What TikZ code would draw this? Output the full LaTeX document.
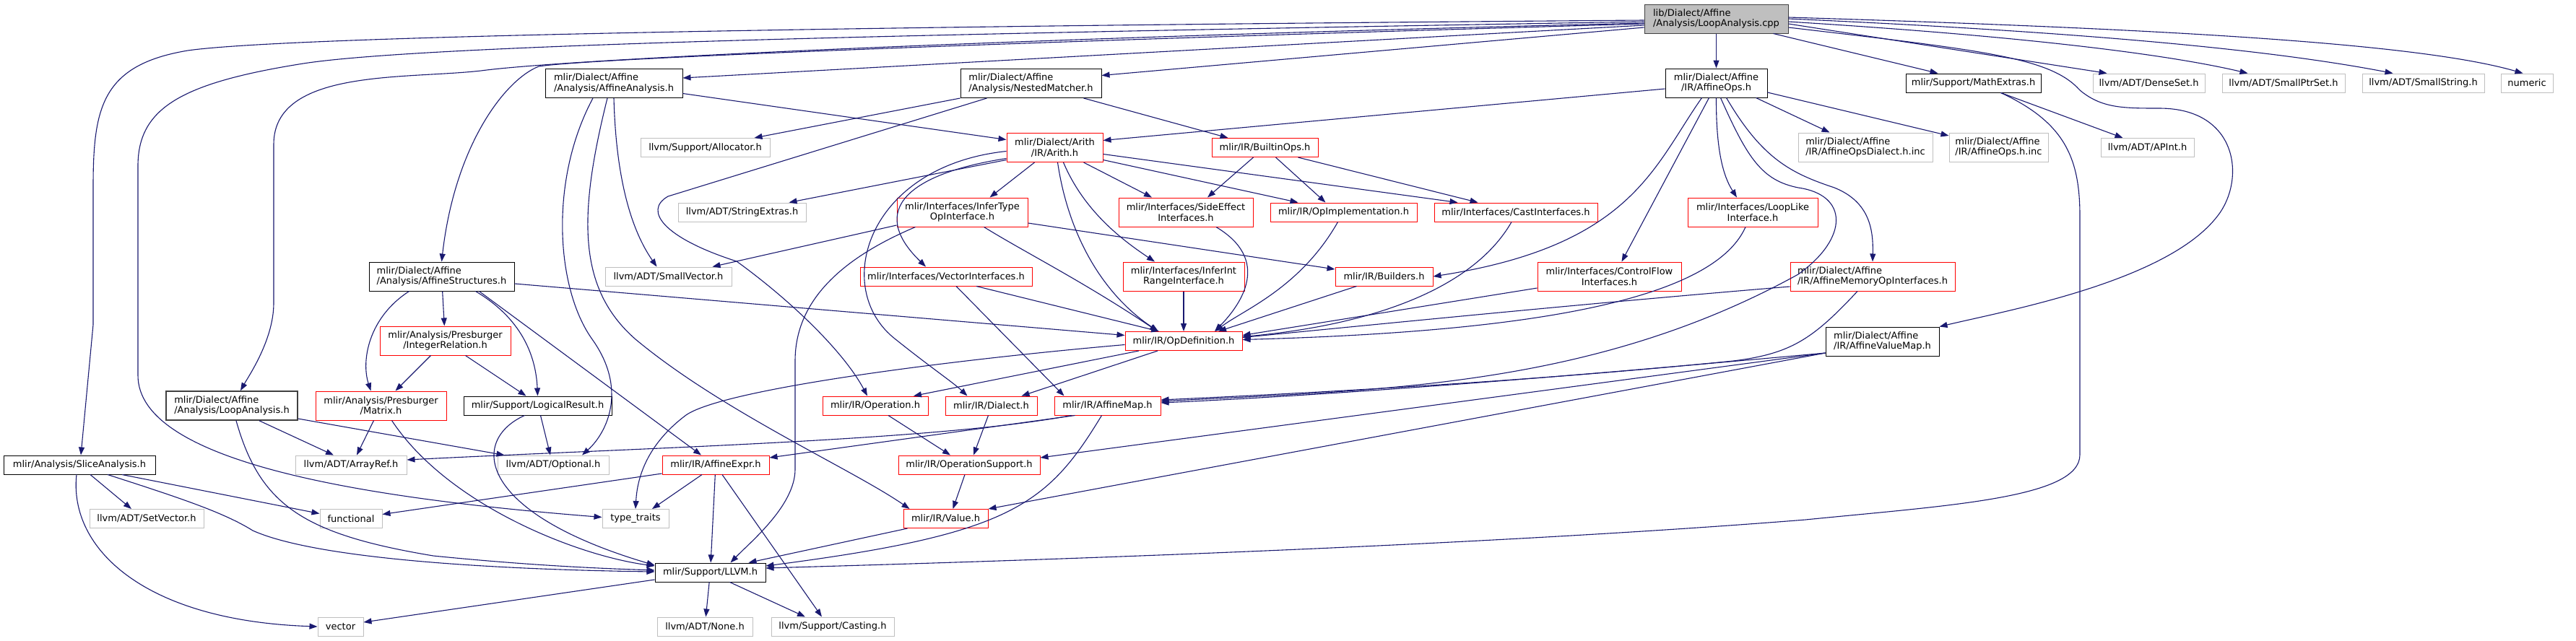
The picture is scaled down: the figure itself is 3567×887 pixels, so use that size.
\documentclass[tikz,border=0pt]{standalone}
\usepackage{fontspec}
\newfontfamily\dxfont{DejaVu Sans}
\usetikzlibrary{arrows.meta}
\definecolor{edgec}{HTML}{191970}
\definecolor{boxg}{HTML}{BFBFBF}
\definecolor{rootg}{HTML}{404040}
\begin{document}
\begin{tikzpicture}[x=1pt,y=-1pt,
 b/.style={draw,inner sep=0pt,minimum height=26pt,align=center,font=\dxfont\fontsize{13}{14.5}\selectfont,line width=1pt},
 bk/.style={b,draw=black},
 rd/.style={b,draw=red},
 gr/.style={b,draw=boxg},
 two/.style={minimum height=40pt},
 lft/.style={align=left},
 ar/.style={->,draw=edgec,line width=1.1pt},
 >={Triangle[length=11pt,width=8pt]}]
\fill[white] (0,0) rectangle (3567,887);
\useasboundingbox (0,0) rectangle (3567,887);
\node[b,two,lft,draw=rootg,fill=boxg,minimum width=199pt] (root) at (2376.5,26) {lib/Dialect/Affine\\/Analysis/LoopAnalysis.cpp};
\node[bk,two,lft,minimum width=190pt] (affana) at (850,115.5) {mlir/Dialect/Affine\\/Analysis/AffineAnalysis.h};
\node[bk,two,lft,minimum width=195pt] (nested) at (1427.5,115.5) {mlir/Dialect/Affine\\/Analysis/NestedMatcher.h};
\node[bk,two,minimum width=141pt] (affops) at (2376.5,115) {mlir/Dialect/Affine\\/IR/AffineOps.h};
\node[bk,minimum width=187pt] (mathx) at (2732.5,115) {mlir/Support/MathExtras.h};
\node[gr,minimum width=155pt] (denseset) at (2975.5,115) {llvm/ADT/DenseSet.h};
\node[gr,minimum width=170pt] (smallptr) at (3162,115) {llvm/ADT/SmallPtrSet.h};
\node[gr,minimum width=169pt] (smallstr) at (3355.5,115) {llvm/ADT/SmallString.h};
\node[gr,minimum width=72pt] (numeric) at (3499,115) {numeric};
\node[gr,minimum width=179pt] (alloc) at (976.5,204.5) {llvm/Support/Allocator.h};
\node[rd,two,minimum width=133pt] (arith) at (1460.5,204.5) {mlir/Dialect/Arith\\/IR/Arith.h};
\node[rd,minimum width=147pt] (builtin) at (1751.5,204.5) {mlir/IR/BuiltinOps.h};
\node[gr,two,lft,minimum width=186pt] (opsdial) at (2583,204) {mlir/Dialect/Affine\\/IR/AffineOpsDialect.h.inc};
\node[gr,two,lft,minimum width=137pt] (opsinc) at (2767.5,204) {mlir/Dialect/Affine\\/IR/AffineOps.h.inc};
\node[gr,minimum width=129pt] (apint) at (2973.5,204.5) {llvm/ADT/APInt.h};
\node[gr,minimum width=177pt] (strext) at (1027.5,294) {llvm/ADT/StringExtras.h};
\node[rd,two,minimum width=181pt] (infertype) at (1332.5,294) {mlir/Interfaces/InferType\\OpInterface.h};
\node[rd,two,minimum width=186pt] (sideeff) at (1642,294) {mlir/Interfaces/SideEffect\\Interfaces.h};
\node[rd,minimum width=203pt] (opimpl) at (1860.5,294) {mlir/IR/OpImplementation.h};
\node[rd,minimum width=226pt] (cast) at (2099,294) {mlir/Interfaces/CastInterfaces.h};
\node[rd,two,minimum width=180pt] (looplike) at (2427,294) {mlir/Interfaces/LoopLike\\Interface.h};
\node[bk,two,lft,minimum width=201pt] (structs) at (611.5,383) {mlir/Dialect/Affine\\/Analysis/AffineStructures.h};
\node[gr,minimum width=175pt] (smallvec) at (925.5,383) {llvm/ADT/SmallVector.h};
\node[rd,minimum width=238pt] (vecint) at (1310,383) {mlir/Interfaces/VectorInterfaces.h};
\node[rd,two,minimum width=168pt] (infint) at (1639,383) {mlir/Interfaces/InferInt\\RangeInterface.h};
\node[rd,minimum width=135pt] (builders) at (1916.5,383) {mlir/IR/Builders.h};
\node[rd,two,minimum width=199pt] (cflow) at (2228.5,383) {mlir/Interfaces/ControlFlow\\Interfaces.h};
\node[rd,two,lft,minimum width=228pt] (memop) at (2593,383) {mlir/Dialect/Affine\\/IR/AffineMemoryOpInterfaces.h};
\node[rd,two,minimum width=181pt] (intrel) at (616.5,472) {mlir/Analysis/Presburger\\/IntegerRelation.h};
\node[rd,minimum width=162pt] (opdef) at (1639,472.5) {mlir/IR/OpDefinition.h};
\node[bk,two,lft,minimum width=157pt] (valmap) at (2606.5,473) {mlir/Dialect/Affine\\/IR/AffineValueMap.h};
\node[b,two,lft,draw=rootg,line width=1.6pt,minimum width=182pt] (loopanah) at (321,562) {mlir/Dialect/Affine\\/Analysis/LoopAnalysis.h};
\node[rd,two,minimum width=181pt] (matrix) at (527.5,562) {mlir/Analysis/Presburger\\/Matrix.h};
\node[bk,minimum width=205pt] (logres) at (744.5,562) {mlir/Support/LogicalResult.h};
\node[rd,minimum width=146pt] (operation) at (1212,562) {mlir/IR/Operation.h};
\node[rd,minimum width=127pt] (dialect) at (1372.5,562) {mlir/IR/Dialect.h};
\node[rd,minimum width=147pt] (affmap) at (1533.5,562) {mlir/IR/AffineMap.h};
\node[bk,minimum width=210pt] (slice) at (110,644) {mlir/Analysis/SliceAnalysis.h};
\node[gr,minimum width=154pt] (arrayref) at (486,644) {llvm/ADT/ArrayRef.h};
\node[gr,minimum width=154pt] (optional) at (766,644) {llvm/ADT/Optional.h};
\node[rd,minimum width=148pt] (affexpr) at (991,644) {mlir/IR/AffineExpr.h};
\node[rd,minimum width=196pt] (opsupport) at (1342,644) {mlir/IR/OperationSupport.h};
\node[gr,minimum width=158pt] (setvec) at (203,718.5) {llvm/ADT/SetVector.h};
\node[gr,minimum width=86pt] (functional) at (486,718.5) {functional};
\node[gr,minimum width=92pt] (typetraits) at (880,718.5) {type\_traits};
\node[rd,minimum width=117pt] (value) at (1309.5,718.5) {mlir/IR/Value.h};
\node[bk,minimum width=153pt] (llvm) at (983.5,793) {mlir/Support/LLVM.h};
\node[gr,minimum width=63pt] (vector) at (471.5,868) {vector};
\node[gr,minimum width=132pt] (none) at (976,868) {llvm/ADT/None.h};
\node[gr,minimum width=170pt] (casting) at (1153,868) {llvm/Support/Casting.h};
\draw[ar] ([yshift=-2pt]root.west) .. controls (1200,36) and (400,50) .. (260,70) .. controls (140,90) and (129,150) .. (129,260) -- (129,450) -- ([xshift=2pt]slice.north);
\draw[ar] ([yshift=-4pt]root.west) .. controls (1400,45) and (600,60) .. (420,88) .. controls (250,115) and (191,150) .. (191,230) -- (191,520) .. controls (191,640) and (500,690) .. ([yshift=2pt]typetraits.west);
\draw[ar] ([yshift=-6pt]root.west) .. controls (1500,50) and (800,80) .. (666,98) .. controls (560,110) and (379,95) .. (379,200) -- (379,420) .. controls (379,470) and (345,520) .. ([xshift=12pt]loopanah.north);
\draw[ar] ([yshift=-7pt]root.west) .. controls (1500,55) and (820,80) .. (746,92) .. controls (700,110) and (630,200) .. (structs.north);
\draw[ar] ([yshift=-9pt]root.west) -- ([yshift=7.5pt]affana.east);
\draw[ar] ([yshift=-12pt]root.west) -- ([yshift=11pt]nested.east);
\draw[ar] (root) -- (affops);
\draw[ar] ([xshift=-21pt]root.south east) -- ([xshift=45pt]mathx.north west);
\draw[ar] ([yshift=-7pt]root.east) -- ([xshift=20pt]denseset.north west);
\draw[ar] ([yshift=-4pt]root.east) .. controls (2800,50) and (3000,75) .. ([xshift=36pt]smallptr.north west);
\draw[ar] (root.east) .. controls (2900,45) and (3150,70) .. ([xshift=43pt]smallstr.north west);
\draw[ar] ([yshift=2pt]root.east) .. controls (3000,40) and (3350,60) .. ([xshift=31pt]numeric.north west);
\draw[ar] ([yshift=-12pt]root.east) .. controls (2750,70) and (2840,80) .. (2880,125) .. controls (2910,150) and (2940,150) .. (2990,150) .. controls (3100,150) and (3110,250) .. (3070,300) .. controls (3000,390) and (2780,430) .. (valmap.north east);
\draw[ar] ([yshift=-8pt]affops.west) -- ([yshift=10pt]arith.east);
\draw[ar] ([xshift=-20pt]affops.south) .. controls (2290,230) and (2260,340) .. (builders.east);
\draw[ar] ([xshift=-10pt]affops.south) -- ([xshift=17pt]cflow.north);
\draw[ar] (affops.south) .. controls (2376,220) and (2390,250) .. ([xshift=-22pt]looplike.north);
\draw[ar] ([xshift=6pt]affops.south) .. controls (2420,220) and (2440,250) .. (2490,260) .. controls (2560,270) and (2560,330) .. (2490,380) .. controls (2200,540) and (1900,540) .. ([yshift=6pt]affmap.east);
\draw[ar] ([xshift=14pt]affops.south) .. controls (2440,220) and (2480,240) .. (2540,260) .. controls (2590,280) and (2594,320) .. (memop.north);
\draw[ar] ([xshift=-16pt]affops.south east) -- ([xshift=44pt]opsdial.north west);
\draw[ar] ([yshift=-13pt]affops.east) -- ([yshift=16pt]opsinc.west);
\draw[ar] ([xshift=38pt]mathx.south) -- ([xshift=31pt]apint.north west);
\draw[ar] ([xshift=38pt]mathx.south) .. controls (2860,170) and (2880,220) .. (2880,300) -- (2880,630) .. controls (2880,690) and (2700,700) .. (2500,720) .. controls (2000,760) and (1300,780) .. ([yshift=6pt]llvm.east);
\draw[ar] ([yshift=-17pt]arith.west) -- ([xshift=-24pt]strext.north east);
\draw[ar] ([xshift=-28pt]arith.south) -- ([xshift=38pt]infertype.north);
\draw[ar] ([xshift=40pt]arith.south) -- ([xshift=-47pt]sideeff.north);
\draw[ar] ([yshift=-17pt]arith.east) -- ([xshift=39pt]opimpl.north west);
\draw[ar] ([yshift=-9pt]arith.east) -- ([xshift=33pt]cast.north west);
\draw[ar] ([yshift=-15pt]arith.west) .. controls (1260,240) and (1200,290) .. ([xshift=-28pt]vecint.north);
\draw[ar] ([yshift=-5pt]arith.west) .. controls (1200,230) and (1150,400) .. (1240,470) .. controls (1290,510) and (1320,530) .. ([xshift=-33pt]dialect.north);
\draw[ar] ([xshift=12pt]arith.south) .. controls (1500,290) and (1550,330) .. ([xshift=-40pt]infint.north);
\draw[ar] ([xshift=4pt]arith.south) .. controls (1480,330) and (1530,410) .. ([xshift=-35pt]opdef.north);
\draw[ar] ([yshift=-18pt]infertype.west) -- ([xshift=-27pt]smallvec.north east);
\draw[ar] ([xshift=-65pt]infertype.south) .. controls (1160,360) and (1101,420) .. (1101,500) -- (1101,650) .. controls (1101,700) and (1040,750) .. ([xshift=28pt]llvm.north);
\draw[ar] ([yshift=-15pt]infertype.east) -- ([yshift=10pt]builders.west);
\draw[ar] ([xshift=30pt]infertype.south) .. controls (1420,350) and (1500,390) .. ([xshift=-36pt]opdef.north);
\draw[ar] ([xshift=42pt]sideeff.south) .. controls (1760,360) and (1720,420) .. ([xshift=43pt]opdef.north);
\draw[ar] ([xshift=14pt]vecint.south) -- ([xshift=-60pt]affmap.north);
\draw[ar] ([xshift=42pt]vecint.south) -- ([xshift=-34pt]opdef.north);
\draw[ar] (infint) -- (opdef);
\draw[ar] ([xshift=-8pt]opimpl.south) .. controls (1800,400) and (1720,430) .. ([xshift=44pt]opdef.north);
\draw[ar] ([xshift=-38pt]builders.south) -- ([xshift=48pt]opdef.north);
\draw[ar] ([xshift=-6pt]cast.south) .. controls (2040,400) and (1900,450) .. ([yshift=6pt]opdef.east);
\draw[ar] ([xshift=-16pt]builtin.south) -- ([xshift=30pt]sideeff.north);
\draw[ar] ([xshift=15pt]builtin.south) -- ([xshift=-25pt]opimpl.north);
\draw[ar] ([xshift=-28pt]builtin.south east) -- ([xshift=61pt]cast.north west);
\draw[ar] ([xshift=-10pt]looplike.south) .. controls (2370,420) and (2100,460) .. ([yshift=2pt]opdef.east);
\draw[ar] ([yshift=-16pt]cflow.west) -- ([yshift=8pt]opdef.east);
\draw[ar] ([yshift=-14pt]memop.west) .. controls (2200,420) and (1900,450) .. ([yshift=5pt]opdef.east);
\draw[ar] ([xshift=-21pt]memop.south) .. controls (2510,470) and (2480,490) .. (2400,500) .. controls (2100,530) and (1800,545) .. ([yshift=8pt]affmap.east);
\draw[ar] ([yshift=-16pt]valmap.west) .. controls (2300,510) and (1900,545) .. ([yshift=4pt]affmap.east);
\draw[ar] ([yshift=-16pt]valmap.west) -- ([yshift=10pt]opsupport.east);
\draw[ar] ([yshift=-16pt]valmap.west) -- (value.north east);
\draw[ar] (nested.south west) -- ([xshift=-22pt]alloc.north east);
\draw[ar] ([xshift=-61pt]nested.south) -- (925,272) .. controls (890,292) and (920,330) .. (1020,362) .. controls (1100,420) and (1170,490) .. ([xshift=-11pt]operation.north);
\draw[ar] ([xshift=-25pt]nested.south east) -- ([xshift=23pt]builtin.north west);
\draw[ar] ([yshift=-14pt]affana.east) -- ([yshift=11pt]arith.west);
\draw[ar] (affana.south) .. controls (853,250) and (875,320) .. ([xshift=-16pt]smallvec.north);
\draw[ar] ([xshift=-29pt]affana.south) .. controls (760,250) and (770,400) .. (820,470) .. controls (870,540) and (840,600) .. ([xshift=40pt]optional.north);
\draw[ar] ([xshift=-9pt]affana.south) .. controls (800,300) and (800,400) .. (880,470) .. controls (1000,570) and (1180,650) .. ([xshift=-50pt]value.north);
\draw[ar] (structs) -- (intrel);
\draw[ar] ([xshift=-45pt]structs.south) .. controls (510,440) and (500,500) .. ([xshift=-14pt]matrix.north);
\draw[ar] ([xshift=47pt]structs.south) .. controls (720,440) and (742,490) .. (logres.north);
\draw[ar] ([xshift=52pt]structs.south) -- ([xshift=-20pt]affexpr.north);
\draw[ar] ([yshift=-10pt]structs.east) -- ([yshift=8pt]opdef.west);
\draw[ar] ([xshift=-20pt]intrel.south) -- ([xshift=20pt]matrix.north);
\draw[ar] ([xshift=28pt]intrel.south) -- ([xshift=-16pt]logres.north);
\draw[ar] ([xshift=38pt]loopanah.south) -- ([xshift=-24pt]arrayref.north);
\draw[ar] ([yshift=-18pt]loopanah.east) -- ([xshift=10pt]optional.north west);
\draw[ar] ([xshift=6pt]loopanah.south) .. controls (360,700) and (420,740) .. (600,770) .. controls (750,785) and (850,788) .. ([yshift=3pt]llvm.west);
\draw[ar] ([xshift=-10pt]matrix.south) -- ([xshift=8pt]arrayref.north);
\draw[ar] ([xshift=15pt]matrix.south) .. controls (620,700) and (800,770) .. ([yshift=9pt]llvm.west);
\draw[ar] ([xshift=4pt]logres.south) -- ([xshift=-4pt]optional.north);
\draw[ar] ([xshift=-18pt]logres.south) .. controls (650,610) and (660,710) .. ([yshift=10pt]llvm.west);
\draw[ar] ([xshift=15pt]slice.south) -- ([xshift=-21pt]setvec.north);
\draw[ar] ([xshift=59pt]slice.south) -- ([yshift=7pt]functional.west);
\draw[ar] ([xshift=39pt]slice.south) .. controls (250,690) and (310,710) .. (350,735) .. controls (450,780) and (750,790) .. ([yshift=1pt]llvm.west);
\draw[ar] ([xshift=-4pt]slice.south) .. controls (95,760) and (200,860) .. (vector.west);
\draw[ar] ([yshift=-12pt]affexpr.west) -- ([yshift=6pt]functional.east);
\draw[ar] ([xshift=-19pt]affexpr.south) -- ([xshift=23pt]typetraits.north);
\draw[ar] (affexpr) -- (llvm);
\draw[ar] ([xshift=9pt]affexpr.south) -- ([xshift=-15pt]casting.north);
\draw[ar] ([xshift=-62pt]opdef.south) -- ([xshift=53pt]operation.north);
\draw[ar] ([xshift=-36pt]opdef.south) -- ([xshift=42pt]dialect.north);
\draw[ar] ([yshift=-5pt]opdef.west) .. controls (1300,500) and (1000,540) .. (950,575) .. controls (890,620) and (882,670) .. (typetraits.north);
\draw[ar] ([xshift=18pt]operation.south) -- ([xshift=-26pt]opsupport.north);
\draw[ar] ([xshift=-4pt]dialect.south) -- ([xshift=6pt]opsupport.north);
\draw[ar] ([xshift=-45pt]affmap.south) -- ([yshift=10pt]affexpr.east);
\draw[ar] ([xshift=-50pt]affmap.south) .. controls (1300,610) and (900,620) .. ([yshift=7pt]arrayref.east);
\draw[ar] ([xshift=-8pt]affmap.south) .. controls (1450,700) and (1400,740) .. ([yshift=9pt]llvm.east);
\draw[ar] ([xshift=-6pt]opsupport.south) -- ([xshift=10pt]value.north);
\draw[ar] ([xshift=-53pt]value.south) -- ([xshift=-24pt]llvm.north east);
\draw[ar] (llvm) -- (none);
\draw[ar] ([xshift=27pt]llvm.south) -- ([xshift=-38pt]casting.north);
\draw[ar] ([yshift=-10pt]llvm.west) -- ([yshift=6pt]vector.east);
\end{tikzpicture}
\end{document}
